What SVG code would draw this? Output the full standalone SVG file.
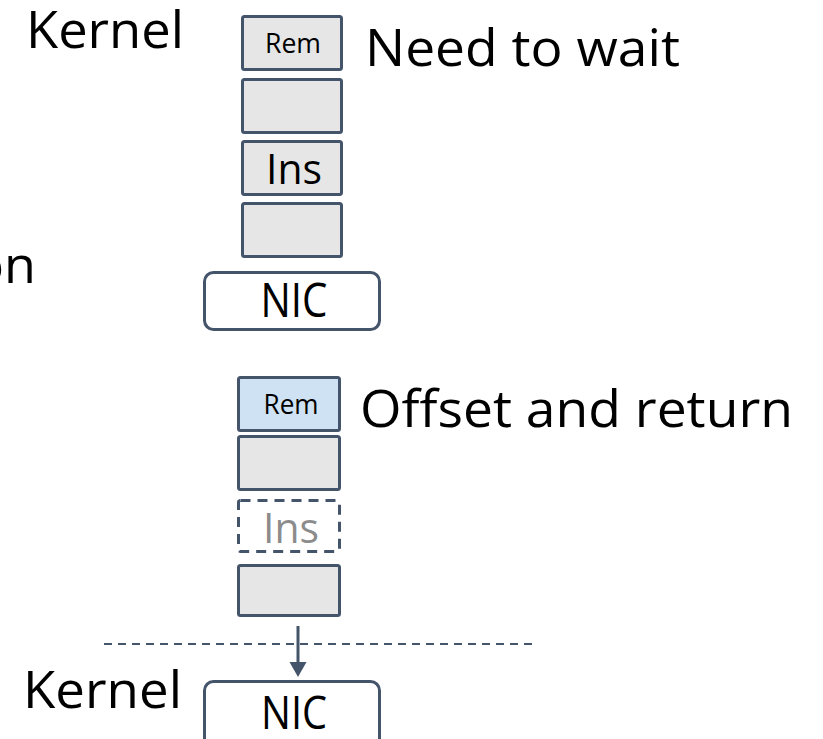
<svg xmlns="http://www.w3.org/2000/svg" width="823" height="739" viewBox="0 0 823 739">
  <style>
    text { font-family: "Open Sans", "Noto Sans", "DejaVu Sans", sans-serif; fill: #000; }
    .lbl { font-size: 52px; }
    .slot { fill: #E6E6E6; stroke: #44546A; stroke-width: 3; }
    .slot-hi { fill: #CFE2F3; stroke: #44546A; stroke-width: 3; }
    .slot-gone { fill: none; stroke: #44546A; stroke-width: 3; stroke-dasharray: 10 7; }
    .nic { fill: #fff; stroke: #44546A; stroke-width: 3; }
    .in { text-anchor: middle; }
    .faded { fill: #8C8C8C; }
    .boundary { stroke: #44546A; stroke-width: 2; stroke-dasharray: 8 6; fill: none; }
    .flow { stroke: #44546A; stroke-width: 3; fill: none; }
    .head { fill: #44546A; }
  </style>

  <!-- free labels -->
  <text id="kernel-top" class="lbl" x="26" y="48" textLength="158" lengthAdjust="spacingAndGlyphs">Kernel</text>
  <text id="label-on" class="lbl" x="36" y="283" text-anchor="end">on</text>
  <text id="need-wait" class="lbl" x="365" y="66" textLength="315" lengthAdjust="spacingAndGlyphs">Need to wait</text>
  <text id="offset-return" class="lbl" x="360" y="427" textLength="433" lengthAdjust="spacingAndGlyphs">Offset and return</text>
  <text id="kernel-bottom" class="lbl" x="23" y="708" textLength="159" lengthAdjust="spacingAndGlyphs">Kernel</text>

  <!-- upper queue -->
  <g id="q1-rem">
    <rect class="slot" x="242.5" y="16.5" width="99" height="53" rx="2"/>
    <text class="in" x="293" y="53" font-size="27" textLength="56" lengthAdjust="spacingAndGlyphs">Rem</text>
  </g>
  <g id="q1-slot2">
    <rect class="slot" x="242.5" y="79.5" width="99" height="53" rx="2"/>
  </g>
  <g id="q1-ins">
    <rect class="slot" x="242.5" y="141.5" width="99" height="53" rx="2"/>
    <text class="in" x="294" y="184" font-size="42" textLength="56" lengthAdjust="spacingAndGlyphs">Ins</text>
  </g>
  <g id="q1-slot4">
    <rect class="slot" x="242.5" y="203.5" width="99" height="53" rx="2"/>
  </g>
  <g id="q1-nic">
    <rect class="nic" x="204.5" y="272.5" width="175" height="57" rx="9"/>
    <text class="in" x="294" y="317" font-size="47" textLength="67" lengthAdjust="spacingAndGlyphs">NIC</text>
  </g>

  <!-- lower queue -->
  <g id="q2-rem">
    <rect class="slot-hi" x="238.5" y="377.5" width="101" height="53" rx="2"/>
    <text class="in" x="291" y="414" font-size="27" textLength="55" lengthAdjust="spacingAndGlyphs">Rem</text>
  </g>
  <g id="q2-slot2">
    <rect class="slot" x="238.5" y="436.5" width="101" height="53" rx="2"/>
  </g>
  <g id="q2-ins">
    <rect class="slot-gone" x="238.5" y="500.5" width="101" height="51" rx="2"/>
    <text class="in faded" x="291" y="543" font-size="42" textLength="56" lengthAdjust="spacingAndGlyphs">Ins</text>
  </g>
  <g id="q2-slot4">
    <rect class="slot" x="238.5" y="565.5" width="101" height="50" rx="2"/>
  </g>
  <g id="q2-nic">
    <rect class="nic" x="204.5" y="681.5" width="175" height="70" rx="9"/>
    <text class="in" x="294" y="729" font-size="45" textLength="66" lengthAdjust="spacingAndGlyphs">NIC</text>
  </g>

  <!-- connectors -->
  <g id="connectors">
    <line class="boundary" x1="104" y1="644" x2="532" y2="644"/>
    <line class="flow" x1="298" y1="626" x2="298" y2="664"/>
    <path class="head" d="M289.5,662 L306.5,662 L298,677 Z"/>
  </g>
</svg>
